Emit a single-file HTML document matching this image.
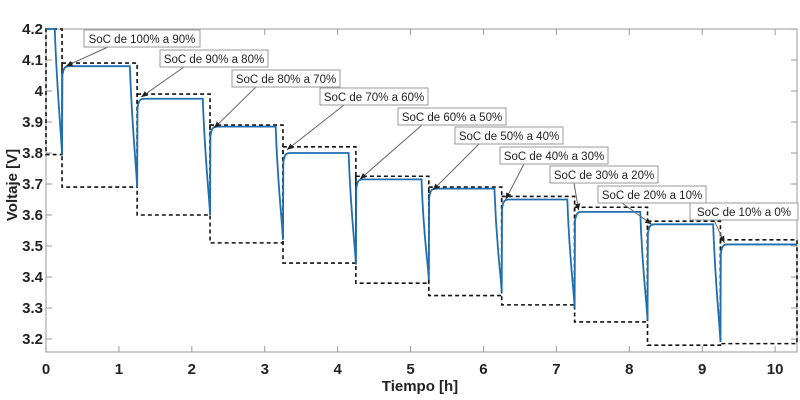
<!DOCTYPE html>
<html><head><meta charset="utf-8"><style>
html,body{margin:0;padding:0;background:#fff;}
svg{display:block;font-family:"Liberation Sans","DejaVu Sans",sans-serif;}
</style></head><body>
<svg id="chart" width="800" height="400" xmlns="http://www.w3.org/2000/svg">
<rect x="0" y="0" width="800" height="400" fill="#fff"/>
<g id="plot"></g>
</svg>
<script>
// data
const restStart = [0, 0.22, 1.25, 2.25, 3.25, 4.25, 5.25, 6.25, 7.25, 8.25, 9.25];
const restEnd   = [0.22, 1.25, 2.25, 3.25, 4.25, 5.25, 6.25, 7.25, 8.25, 9.25, 10.3];
const plateau   = [4.2, 4.08, 3.975, 3.885, 3.80, 3.715, 3.685, 3.65, 3.61, 3.57, 3.505];
const minV      = [3.795, 3.69, 3.60, 3.52, 3.44, 3.39, 3.35, 3.30, 3.26, 3.19, 3.505];
const boxTop    = [4.2, 4.09, 3.99, 3.89, 3.82, 3.725, 3.69, 3.66, 3.625, 3.58, 3.52];
const boxBottom = [3.795, 3.69, 3.60, 3.51, 3.445, 3.38, 3.34, 3.31, 3.255, 3.18, 3.185];
const labels = ["SoC de 100% a 90%","SoC de 90% a 80%","SoC de 80% a 70%","SoC de 70% a 60%","SoC de 60% a 50%","SoC de 50% a 40%","SoC de 40% a 30%","SoC de 30% a 20%","SoC de 20% a 10%","SoC de 10% a 0%"];
const labelPos = [[84,30],[160,50],[232,70],[320,88],[398,108],[455,127],[500,147],[550,166],[598,186],[690,203]];
const xTicks = [0,1,2,3,4,5,6,7,8,9,10];
const yTicks = [3.2,3.3,3.4,3.5,3.6,3.7,3.8,3.9,4.0,4.1,4.2];
const yTickLabels = ["3.2","3.3","3.4","3.5","3.6","3.7","3.8","3.9","4","4.1","4.2"];

const X0=46, X1=797, Y0=29, Y1=352;
const xMin=0, xMax=10.3, yMin=3.158, yMax=4.2;
const xs = v => X0 + (v-xMin)/(xMax-xMin)*(X1-X0);
const ys = v => Y1 - (v-yMin)/(yMax-yMin)*(Y1-Y0);
const NS="http://www.w3.org/2000/svg";
const g=document.getElementById('plot');
function mk(t,a,p){const e=document.createElementNS(NS,t);for(const k in a)e.setAttribute(k,a[k]);(p||g).appendChild(e);return e;}

let fr=mk('rect',{x:X0,y:Y0,width:X1-X0,height:Y1-Y0,fill:'none',stroke:'#aaa','stroke-width':1.2});



xTicks.forEach(t=>{
  const x=xs(t);
  const l=mk('line',{x1:x,x2:x,y1:Y1,y2:Y1-6,stroke:'#999'});
  
  
  const l2=mk('line',{x1:x,x2:x,y1:Y0,y2:Y0+6,stroke:'#999'});
  
  
  const tx=mk('text',{x:x,y:Y1+22,'text-anchor':'middle','font-size':15,'font-weight':'bold',fill:'#222'});
  tx.textContent=t;
  
  
});
yTicks.forEach((t,i)=>{
  const y=ys(t);
  const l=mk('line',{x1:X0,x2:X0+6,y1:y,y2:y,stroke:'#999'});
  
  
  const l2=mk('line',{x1:X1,x2:X1-6,y1:y,y2:y,stroke:'#999'});
  
  
  const tx=mk('text',{x:X0-3,y:y+5,'text-anchor':'end','font-size':15,'font-weight':'bold',fill:'#222'});
  tx.textContent=yTickLabels[i];
  
  
});

restStart.forEach((s,i)=>{
  const r=mk('rect',{x:xs(s),y:ys(boxTop[i]),width:xs(restEnd[i])-xs(s),height:ys(boxBottom[i])-ys(boxTop[i]),fill:'none',stroke:'#111','stroke-width':1.6,'stroke-dasharray':'4,3'});
  
  
});

let d='';
restStart.forEach((s,i)=>{
  const e=restEnd[i], p=plateau[i], m=minV[i];
  const startV = i===0 ? p : minV[i-1];
  if(i===0){ d+=`M${xs(s)},${ys(p)}`; }
  else {
    d+=` L${xs(s)},${ys(startV)}`;
    d+=` L${xs(s+0.005)},${ys(p-0.03)}`;
    d+=` C${xs(s+0.02)},${ys(p-0.005)} ${xs(s+0.04)},${ys(p)} ${xs(s+0.1)},${ys(p)}`;
  }
  if(i<restStart.length-1){
    const ds=e-0.1;
    d+=` L${xs(ds)},${ys(p)}`;
    d+=` C${xs(ds+0.03)},${ys(p-0.2)} ${xs(e-0.01)},${ys(m+0.06)} ${xs(e)},${ys(m)}`;
  } else {
    d+=` L${xs(e)},${ys(p)}`;
  }
});
const cv=mk('path',{d:d,fill:'none',stroke:'#1f6fb0','stroke-width':1.8});



labels.forEach((t,i)=>{
  const [lx,ly]=labelPos[i];
  const tipX=xs(restStart[i+1])+4, tipY=ys(boxTop[i+1])+3;
  const ln=mk('line',{x1:lx+24,y1:ly+17,x2:tipX,y2:tipY,stroke:'#666','stroke-width':1});
  
  
  const ang=Math.atan2(tipY-(ly+17),tipX-(lx+24));
  const a1=ang+Math.PI-0.4, a2=ang+Math.PI+0.4;
  const hd=mk('polygon',{points:`${tipX},${tipY} ${tipX+7*Math.cos(a1)},${tipY+7*Math.sin(a1)} ${tipX+7*Math.cos(a2)},${tipY+7*Math.sin(a2)}`,fill:'#222'});
  
  
  const w=t.length>16?116:108;
  const bx=mk('rect',{x:lx,y:ly,width:w,height:17,fill:'#fff',stroke:'#999','stroke-width':1});
  
  
  const tx=mk('text',{x:lx+w/2,y:ly+13,'text-anchor':'middle','font-size':11.5,fill:'#222'});
  tx.textContent=t;
  
  
});

const xt=mk('text',{x:420,y:391,'text-anchor':'middle','font-size':15,'font-weight':'bold',fill:'#222'});
xt.textContent='Tiempo [h]';


const yt=mk('text',{x:0,y:0,'text-anchor':'middle','font-size':15,'font-weight':'bold',fill:'#222',transform:'translate(17,185) rotate(-90)'});
yt.textContent='Voltaje [V]';


</script>
</body></html>
